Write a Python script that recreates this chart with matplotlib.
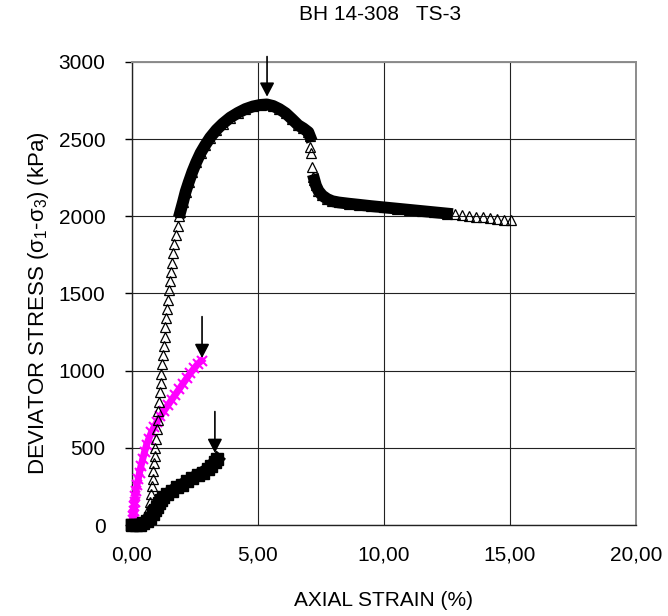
import matplotlib
matplotlib.use('Agg')
import matplotlib.pyplot as plt
from matplotlib.ticker import FuncFormatter

plt.rcParams['font.family'] = ['Liberation Sans', 'DejaVu Sans']
plt.rcParams['mathtext.default'] = 'regular'
plt.rcParams['font.size'] = 15

# triangulos: parte empinada (marcadores sueltos)
tri_steep_x = [0.30, 0.40, 0.50, 0.58, 0.64, 0.70, 0.74, 0.78, 0.82, 0.85, 0.88, 0.90,
               0.93, 0.96, 0.99, 1.02, 1.05, 1.08, 1.11, 1.14, 1.17, 1.20, 1.23, 1.26,
               1.29, 1.32, 1.35, 1.38, 1.41, 1.45, 1.49, 1.53, 1.58, 1.63, 1.68, 1.74,
               1.81, 1.88]
tri_steep_y = [0, 10, 30, 60, 100, 150, 200, 250, 300, 350, 400, 450,
               500, 560, 620, 680, 740, 800, 860, 920, 980, 1040, 1100, 1160,
               1220, 1280, 1340, 1400, 1460, 1520, 1580, 1640, 1700, 1760, 1820, 1880,
               1940, 2000]

# triangulos: banda densa (pico y caida)
tri_band_x = [1.92, 2.02, 2.13, 2.25, 2.40, 2.55, 2.72, 2.90, 3.10, 3.35, 3.60, 3.90,
              4.20, 4.50, 4.80, 5.10, 5.35, 5.60, 5.85, 6.10, 6.35, 6.60, 6.80, 7.00,
              7.06]
tri_band_y = [2030, 2090, 2160, 2220, 2290, 2350, 2410, 2460, 2510, 2560, 2600, 2640,
              2670, 2695, 2712, 2722, 2725, 2715, 2695, 2668, 2630, 2590, 2570, 2545,
              2520]

tri_drop_x = [7.08, 7.12, 7.16, 7.20]
tri_drop_y = [2450, 2410, 2320, 2255]

tri_res_x = [7.24, 7.30, 7.40, 7.55, 7.75, 7.95, 8.20, 8.60, 9.00, 9.50, 10.00, 10.50,
             11.00, 11.50, 12.00, 12.50]
tri_res_y = [2235, 2200, 2165, 2135, 2112, 2098, 2090, 2082, 2075, 2066, 2058, 2050,
             2042, 2034, 2026, 2018]

tri_tail_x = [12.80, 13.08, 13.36, 13.64, 13.92, 14.20, 14.48, 14.76, 15.04]
tri_tail_y = [2014, 2008, 2003, 1998, 1993, 1988, 1983, 1978, 1974]

# serie rosa (cruces)
pink_x = [0.00, 0.02, 0.04, 0.06, 0.08, 0.10, 0.13, 0.16, 0.20, 0.25, 0.30, 0.36,
          0.43, 0.50, 0.58, 0.67, 0.77, 0.88, 1.00, 1.13, 1.27, 1.42, 1.57, 1.72,
          1.87, 2.02, 2.17, 2.32, 2.47, 2.62, 2.76]
pink_y = [0, 30, 60, 90, 120, 150, 185, 220, 260, 300, 340, 385,
          430, 475, 520, 560, 600, 635, 670, 705, 740, 775, 810, 845,
          880, 915, 950, 985, 1015, 1045, 1065]

# serie negra (cuadrados)
sq_x = [0.00, 0.15, 0.30, 0.45, 0.60, 0.72, 0.82, 0.90, 0.98, 1.06, 1.15, 1.25,
        1.40, 1.60, 1.80, 2.00, 2.20, 2.40, 2.60, 2.80, 3.00, 3.15, 3.30, 3.38]
sq_y = [0, 0, 3, 12, 25, 45, 70, 95, 115, 145, 165, 180,
        200, 222, 245, 262, 283, 303, 322, 340, 360, 385, 410, 425]

# flechas (x, punta, cola)
arrow_x = [5.36, 2.78, 3.29]
arrow_tip = [2775, 1082, 467]
arrow_tail = [3035, 1350, 735]

xticks = [0, 5, 10, 15, 20]
yticks = [0, 500, 1000, 1500, 2000, 2500, 3000]

fig = plt.figure(figsize=(6.68, 6.16), dpi=100)
ax = fig.add_axes([0.1976, 0.1477, 0.7544, 0.7517])

ax.set_xlim(0, 20)
ax.set_ylim(0, 3000)
ax.set_xticks(xticks)
ax.set_yticks(yticks)
ax.xaxis.set_major_formatter(FuncFormatter(lambda v, p: f'{v:.2f}'.replace('.', ',')))
ax.tick_params(axis='x', length=0, pad=15)
ax.tick_params(axis='y', direction='out', length=5, width=1, pad=14)
ax.grid(True, color='#222222', lw=0.8)
ax.set_axisbelow(True)
for s in ['top', 'right']:
    ax.spines[s].set_color('#8c8c8c')
    ax.spines[s].set_linewidth(1.4)
for s in ['left', 'bottom']:
    ax.spines[s].set_color('#222222')
    ax.spines[s].set_linewidth(1.0)

# rosa
ax.plot(pink_x, pink_y, '-', color='#ff00ff', lw=5, marker='x', ms=7, mew=1.5,
        clip_on=False, zorder=3)

# triangulos
tri_kw = dict(marker='^', ms=7, mfc='none', mec='k', mew=0.9, color='k', clip_on=False, zorder=4)
ax.plot(tri_steep_x, tri_steep_y, ls='none', **tri_kw)
ax.plot(tri_band_x, tri_band_y, ls='-', lw=8.5, **tri_kw)
ax.plot(tri_drop_x, tri_drop_y, ls='none', **tri_kw)
ax.plot(tri_res_x, tri_res_y, ls='-', lw=8.5, **tri_kw)
ax.plot(tri_tail_x, tri_tail_y, ls='none', **tri_kw)

# cuadrados
ax.plot(sq_x, sq_y, '-', color='k', lw=9, marker='s', ms=9, clip_on=False, zorder=5)

for x, tip, tail in zip(arrow_x, arrow_tip, arrow_tail):
    ax.annotate('', xy=(x, tip), xytext=(x, tail), annotation_clip=False,
                arrowprops=dict(arrowstyle='-|>,head_length=0.42,head_width=0.22',
                                color='k', lw=1.2, mutation_scale=20, shrinkA=0, shrinkB=0),
                zorder=6)

ax.set_xlabel('AXIAL STRAIN (%)', va='center')
ax.xaxis.set_label_coords(0.5, -0.164)
ax.set_ylabel('DEVIATOR STRESS (σ$_1$-σ$_3$) (kPa)', va='center', fontsize=16)
ax.yaxis.set_label_coords(-0.1865, 0.479)

fig.text(380 / 668, 1 - 15 / 616, 'BH 14-308   TS-3', ha='center', va='center')

fig.savefig('out.png', dpi=100)
